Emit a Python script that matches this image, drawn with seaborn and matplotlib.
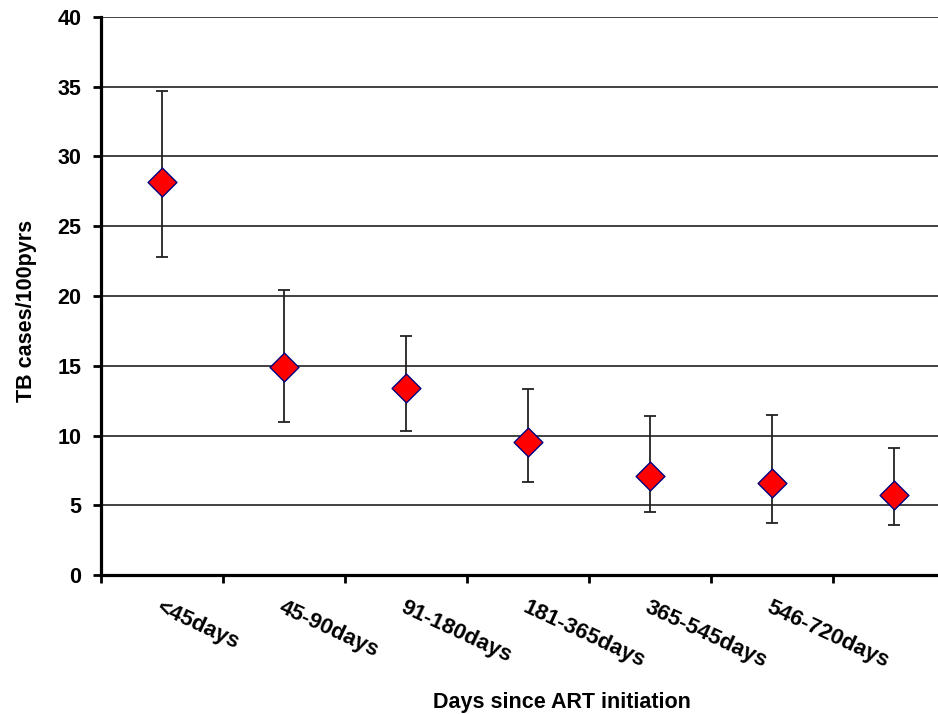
import numpy as np
import pandas as pd
import matplotlib
matplotlib.use("Agg")
import matplotlib.pyplot as plt
import seaborn as sns

categories = ["<45days", "45-90days", "91-180days", "181-365days",
              "365-545days", "546-720days", ""]
rate = [28.2, 14.9, 13.4, 9.5, 7.1, 6.6, 5.7]
ci_low = [22.8, 11.0, 10.3, 6.7, 4.5, 3.7, 3.6]
ci_high = [34.7, 20.4, 17.1, 13.3, 11.4, 11.5, 9.1]
y_ticks = [0, 5, 10, 15, 20, 25, 30, 35, 40]

sns.set_theme(style="white")
plt.rcParams["font.family"] = ["Liberation Sans", "DejaVu Sans"]
plt.rcParams["font.weight"] = "bold"
for k in ["text.color", "axes.labelcolor", "xtick.color", "ytick.color"]:
    plt.rcParams[k] = "black"

df = pd.DataFrame({"pos": np.arange(len(categories)), "cat": categories,
                   "rate": rate, "lo": ci_low, "hi": ci_high})

fig = plt.figure(figsize=(9.38, 7.14), dpi=100)
ax = fig.add_axes([101/938, 1 - 575/714, 854/938, 558/714])

# error bars
ax.errorbar(df["pos"], df["rate"],
            yerr=[df["rate"] - df["lo"], df["hi"] - df["rate"]],
            fmt="none", ecolor="#222222", elinewidth=1.3, capsize=4.2,
            capthick=1.3, zorder=3)

sns.scatterplot(data=df, x="pos", y="rate", marker="D", s=215,
                color="#ff0000", edgecolor="#000080", linewidth=1.0,
                zorder=4, ax=ax, legend=False)

ax.set_xlim(-0.5, len(categories) - 0.5)
ax.set_ylim(0, 40)
ax.set_yticks(y_ticks)
ax.set_yticklabels([str(v) for v in y_ticks], fontsize=15.5, fontweight="bold")
for v in y_ticks[1:]:
    ax.axhline(v, color="#333333", linewidth=1.3, zorder=1)

# category labels at centres, ticks at boundaries
ax.set_xticks(df["pos"])
ax.set_xticklabels(categories, rotation=-25, ha="left", va="top",
                   rotation_mode="anchor", fontsize=16, fontweight="bold")
ax.tick_params(axis="x", which="major", length=0, pad=16)
ax.set_xticks(np.arange(len(categories) + 1) - 0.5, minor=True)
ax.tick_params(axis="x", which="minor", length=6, width=2, color="black",
               direction="out", bottom=True)
ax.tick_params(axis="y", which="major", length=6, width=2, color="black",
               direction="out", left=True, pad=8)

for s in ["top", "right"]:
    ax.spines[s].set_visible(False)
for s in ["left", "bottom"]:
    ax.spines[s].set_color("black")
    ax.spines[s].set_linewidth(2.3)
    ax.spines[s].set_zorder(5)

ax.set_xlabel("Days since ART initiation", fontsize=15.5, fontweight="bold")
ax.set_ylabel("TB cases/100pyrs", fontsize=15.5, fontweight="bold")
ax.xaxis.set_label_coords(0.54, -0.2097)
ax.yaxis.set_label_coords(-0.0755, 0.473)

fig.savefig("out.png", dpi=100)
